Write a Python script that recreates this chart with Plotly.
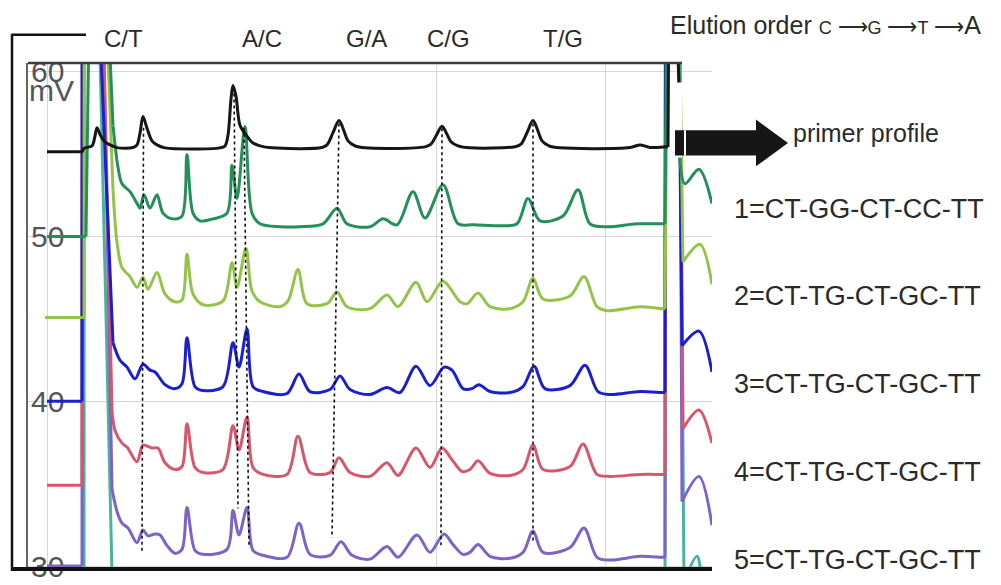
import plotly.graph_objects as go

# ---------------- data (retention position, mV); 150 = off-scale solvent front ----------------
primer_x = [47, 80, 82, 84, 92, 95, 97, 100, 104, 110, 118, 133, 137, 140, 143, 147, 152, 157, 165, 220,
            225, 228, 231, 233, 236, 240, 247, 253, 260, 272, 322, 327, 333, 339, 344, 348, 355, 365, 425, 431,
            436, 442, 447, 451, 458, 470, 515, 521, 527, 533, 538, 542, 549, 560, 630, 640, 650, 665, 668, 670,
            677, 678, 681, 712]
primer_y = [55.15, 55.15, 55.15, 55.35, 55.5, 56.1, 56.6, 56.2, 55.8, 55.56, 55.38, 55.4, 55.56, 56.27, 57.28,
            56.57, 55.8, 55.56, 55.38, 55.38, 55.5, 56.15, 58.34, 59.17, 58.52, 56.75, 56.09, 55.68, 55.5, 55.38,
            55.4, 55.56, 56.3, 57.04, 56.4, 55.8, 55.5, 55.38, 55.44, 55.6, 56.1, 56.69, 56.2, 55.75, 55.5, 55.38,
            55.45, 55.6, 56.3, 57.04, 56.4, 55.8, 55.5, 55.38, 55.4, 55.56, 55.4, 55.44, 55.44, 150,
            150, 61, 55.4, 55.4]

s1_x = [47, 84, 86, 87, 109, 110, 113, 118, 122, 130, 137, 140, 144, 150, 157, 163, 173, 182, 187, 193, 200, 213,
        227, 232, 237, 245, 252, 260, 280, 300, 323, 337, 347, 370, 383, 397, 413, 425, 443, 458, 473, 500, 517,
        528, 540, 563, 578, 590, 607, 637, 662, 665, 667, 678, 679, 680, 685, 699, 712]
s1_y = [50.0, 50.0, 50.0, 150, 150, 61, 56.75, 54.2, 53.2, 52.72, 52.01, 51.72, 52.54, 51.72, 52.54, 51.42, 51.07,
        51.24, 54.97, 51.42, 50.95, 51.07, 51.42, 54.32, 52.31, 56.69, 51.42, 50.77, 50.59, 50.59, 50.77, 51.72,
        50.77, 50.59, 51.07, 50.71, 52.72, 51.12, 53.14, 50.77, 50.71, 50.65, 50.77, 52.31, 50.95, 51.24, 52.84,
        50.77, 50.59, 50.77, 50.77, 50.77, 150, 150, 61, 54.5, 53.2, 54.08, 52.0]

s2_x = [45, 81, 84, 85, 107, 108, 113, 117, 122, 130, 137, 143, 148, 157, 165, 175, 182, 187, 193, 203, 223, 232,
        237, 246, 252, 260, 280, 288, 298, 307, 327, 337, 347, 370, 387, 398, 416, 427, 443, 460, 467, 478, 490,
        510, 523, 533, 543, 570, 584, 597, 607, 640, 662, 665, 668, 679, 680, 683, 700, 712]
s2_y = [45.09, 45.09, 45.09, 150, 150, 61, 52.84, 49.65, 48.11, 47.57, 46.92, 47.51, 46.8, 47.81, 46.51, 46.04,
        46.15, 48.93, 46.51, 45.86, 46.09, 48.4, 46.92, 49.29, 46.69, 46.04, 45.74, 46.09, 47.99, 45.92, 45.92,
        46.63, 45.74, 45.62, 46.45, 45.74, 47.22, 46.04, 47.28, 46.04, 45.92, 46.57, 45.74, 45.62, 46.04, 47.46,
        46.21, 46.39, 47.57, 45.74, 45.5, 45.74, 45.62, 45.62, 150, 150, 61, 48.46, 49.53, 47.1]

s3_x = [47, 79, 82, 83, 100, 101, 113, 120, 127, 135, 143, 150, 155, 165, 175, 182, 187, 195, 203, 223, 233, 239,
        247, 253, 263, 287, 299, 310, 330, 340, 350, 370, 387, 400, 416, 430, 444, 452, 463, 472, 479, 490, 510,
        523, 534, 545, 570, 585, 598, 610, 640, 662, 665, 667, 678, 679, 682, 699, 712]
s3_y = [40.0, 40.0, 40.0, 150, 150, 61, 43.55, 42.49, 42.07, 41.36, 42.25, 41.89, 41.78, 41.01, 40.77, 41.07,
        43.85, 40.89, 40.65, 40.89, 43.55, 42.07, 44.38, 40.89, 40.59, 40.47, 41.66, 40.59, 40.71, 41.54, 40.71,
        40.41, 40.83, 40.53, 42.13, 40.95, 42.07, 41.89, 40.77, 40.77, 41.01, 40.59, 40.53, 40.89, 42.13, 40.77,
        40.95, 42.19, 40.59, 40.41, 40.59, 40.53, 40.53, 150, 150, 61, 43.37, 44.26, 41.78]

s4_x = [47, 79, 82, 83, 103, 104, 112, 115, 122, 127, 137, 143, 152, 158, 165, 175, 182, 187, 195, 203, 223, 233,
        239, 247, 253, 263, 287, 298, 310, 330, 339, 350, 370, 387, 398, 416, 430, 442, 452, 462, 470, 478, 490,
        510, 523, 533, 543, 570, 583, 597, 610, 640, 662, 665, 667, 679, 680, 683, 699, 712]
s4_y = [34.91, 34.91, 34.91, 150, 150, 61, 39.41, 38.23, 37.46, 37.22, 36.33, 37.34, 37.16, 37.16, 36.27, 35.86,
        36.04, 38.64, 35.98, 35.68, 35.86, 38.52, 37.04, 39.05, 35.98, 35.56, 35.56, 37.87, 35.68, 35.68, 36.57,
        35.68, 35.44, 36.27, 35.5, 37.16, 35.98, 37.16, 36.45, 35.74, 35.86, 36.39, 35.62, 35.5, 35.86, 37.34,
        35.86, 36.04, 37.4, 35.56, 35.44, 35.56, 35.56, 35.56, 150, 150, 61, 38.34, 39.47, 37.46]

s5_x = [47, 79, 82, 83, 103, 104, 112, 117, 122, 128, 137, 143, 148, 155, 160, 167, 175, 182, 187, 195, 203, 227,
        233, 239, 247, 253, 263, 287, 299, 310, 330, 341, 352, 370, 387, 398, 417, 430, 444, 453, 463, 470, 478,
        490, 510, 523, 533, 543, 570, 584, 597, 610, 640, 662, 665, 667, 679, 680, 682, 699, 712]
s5_y = [30.0, 30.0, 30.0, 150, 150, 61, 34.67, 33.31, 32.6, 32.31, 31.42, 32.19, 31.83, 31.95, 31.89, 31.24, 30.77,
        31.01, 33.55, 30.95, 30.71, 31.01, 33.37, 31.89, 33.55, 30.95, 30.65, 30.53, 32.6, 30.71, 30.65, 31.48,
        30.65, 30.42, 31.19, 30.53, 31.89, 30.83, 31.95, 31.3, 30.71, 30.83, 31.3, 30.59, 30.47, 30.83, 32.13,
        30.83, 31.12, 32.31, 30.53, 30.36, 30.59, 30.53, 30.53, 150, 150, 61, 33.91, 35.44, 32.48]

s6_x = [47, 81, 84, 85, 99, 100, 112, 120, 660, 665, 667, 679, 680, 684, 697, 703, 712]
s6_y = [28.0, 28.0, 28.0, 150, 150, 61, 29.5, 28.5, 28.5, 28.5, 150, 150, 61, 29.0, 30.6, 29.2, 28.5]

peak_labels = ["C/T", "A/C", "G/A", "C/G", "T/G"]
sample_labels = ["1=CT-GG-CT-CC-TT", "2=CT-TG-CT-GC-TT", "3=CT-TG-CT-GC-TT",
                 "4=CT-TG-CT-GC-TT", "5=CT-TG-CT-GC-TT"]
y_ticks = [30, 40, 50, 60]
# dotted guide lines: (x_top, mV_top, x_bottom, mV_bottom)
guide_lines = [(143.5, 56.6, 142, 30.9), (234, 59.05, 238, 33.5), (244, 56.6, 249, 31.24),
               (339, 56.86, 332, 31.72), (442, 56.57, 441, 31.24), (533, 56.86, 533, 31.54)]

# ---------------- styling ----------------
colors = {"p": "#161616", "1": "#23905a", "2": "#93c447", "3": "#1c1fcf", "4": "#d8566b",
          "5": "#7d62c8", "6": "#49b39e"}
L, R, T, B = 28, 712, 63, 582
W, H = R - L, B - T
OFF = 61  # values at/above this are off the visible scale


def P(px, py):
    return (px - L) / W, (B - py) / H


def pieces(xs, ys):
    """Split a series: on-scale runs are smoothed, off-scale excursions are straight."""
    out = []
    n = len(xs)
    i = 0
    while i < n:
        if ys[i] < OFF:
            j = i
            while j + 1 < n and ys[j + 1] < OFF:
                j += 1
            out.append((xs[i:j + 1], ys[i:j + 1], "spline"))
            i = j + 1
        else:
            j = i
            while j + 1 < n and ys[j + 1] >= OFF:
                j += 1
            a, b = max(i - 1, 0), min(j + 1, n - 1)
            out.append((xs[a:b + 1], ys[a:b + 1], "linear"))
            i = j + 1
    return out


fig = go.Figure()
series = [(s6_x, s6_y, "6"), (s5_x, s5_y, "5"), (s4_x, s4_y, "4"), (s3_x, s3_y, "3"),
          (s2_x, s2_y, "2"), (s1_x, s1_y, "1"), (primer_x, primer_y, "p")]
for xs, ys, key in series:
    for px_, py_, shp in pieces(xs, ys):
        line = dict(color=colors[key], width=3, shape=shp)
        if shp == "spline":
            line["smoothing"] = 0.9
        fig.add_trace(go.Scatter(x=px_, y=py_, mode="lines", line=line,
                                 hoverinfo="skip", showlegend=False))

shapes = []
for x0, y0, x1, y1 in guide_lines:
    shapes.append(dict(type="line", xref="x", yref="y", x0=x0, y0=y0, x1=x1, y1=y1,
                       line=dict(color="#111", width=1.6, dash="dot"), layer="above"))


def pline(a, b, color, width):
    (x0, y0), (x1, y1) = P(*a), P(*b)
    return dict(type="line", xref="paper", yref="paper", x0=x0, y0=y0, x1=x1, y1=y1,
                line=dict(color=color, width=width), layer="above")


def prect(a, b, color):
    (x0, y0), (x1, y1) = P(*a), P(*b)
    return dict(type="rect", xref="paper", yref="paper", x0=x0, y0=y0, x1=x1, y1=y1,
                fillcolor=color, line=dict(width=0), layer="above")


shapes += [
    prect((673, 83), (682, 160), "white"),
    pline((28, 63), (682, 63), "#3a3a3a", 2.5),
    pline((27, 63), (27, 582), "#333", 1.5),
    pline((12, 582), (712, 582), "#111", 4),
    pline((12, 34), (86, 34), "#111", 2.5),
    pline((12, 33), (12, 584), "#111", 2.5),
    prect((675, 132), (757, 158), "#161616"),
    pline((685, 132), (685, 158), "white", 2),
]
a1, a2, a3 = P(756, 121), P(788, 145), P(756, 169)
shapes.append(dict(type="path", xref="paper", yref="paper",
                   path=f"M {a1[0]} {a1[1]} L {a2[0]} {a2[1]} L {a3[0]} {a3[1]} Z",
                   fillcolor="#161616", line=dict(width=0), layer="above"))

FONT = "Liberation Sans, Arial, sans-serif"
ann = []


def text(s, px, py, size, color="#2a2a2a", xanchor="center"):
    x, y = P(px, py)
    ann.append(dict(text=s, x=x, y=y, xref="paper", yref="paper", xanchor=xanchor, yanchor="middle",
                    showarrow=False, font=dict(family=FONT, size=size, color=color)))


for lab, cx in zip(peak_labels, [123, 262, 366, 449, 563]):
    text(lab, cx, 38, 24)
for lab, cy in zip(sample_labels, [213, 302, 392, 483, 573]):
    text(lab, 732, cy, 27, xanchor="left")
text("primer profile", 791, 135, 25, xanchor="left")
text("Elution order <span style='font-size:18px'>C</span><span style='font-size:21px'> \u27f6</span>"
     "<span style='font-size:18px'>G</span><span style='font-size:21px'> \u27f6</span>"
     "<span style='font-size:18px'>T</span><span style='font-size:21px'> \u27f6</span>A",
     668, 24, 25, xanchor="left")
text("mV", 27, 91, 30, color="#555", xanchor="left")

fig.update_layout(
    width=1001, height=585,
    margin=dict(l=L, r=1001 - R, t=T, b=585 - B, pad=0),
    paper_bgcolor="white", plot_bgcolor="white",
    xaxis=dict(range=[L, R], tickvals=[47, 436, 605], showticklabels=False, ticks="",
               showgrid=True, gridcolor="#d6d6d6", gridwidth=1, zeroline=False, showline=False, fixedrange=True),
    yaxis=dict(range=[29.82, 60.53], tickvals=y_ticks, ticktext=[str(v) for v in y_ticks],
               ticks="", ticklabelposition="inside", ticklabeloverflow="allow",
               tickfont=dict(family=FONT, size=30, color="#555"), layer="below traces",
               showgrid=True, gridcolor="#d6d6d6", gridwidth=1, zeroline=False, showline=False, fixedrange=True),
    shapes=shapes, annotations=ann, showlegend=False,
)

fig.write_html("out.html", config={"displayModeBar": False, "staticPlot": True},
               post_script="document.body.style.margin='0';")
